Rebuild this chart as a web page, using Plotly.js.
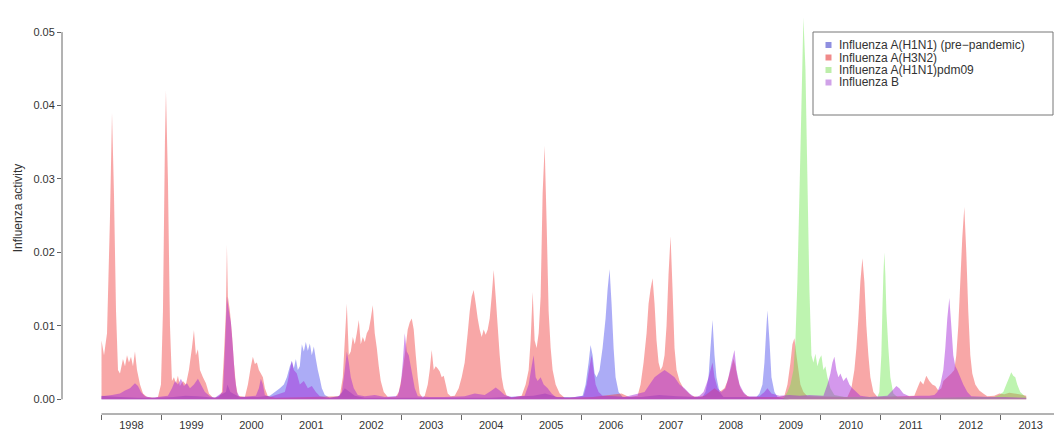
<!DOCTYPE html>
<html>
<head>
<meta charset="utf-8">
<script src="https://cdn.plot.ly/plotly-3.0.1.min.js"></script>
<style>html,body{margin:0;padding:0;background:#fff;overflow:hidden}#chart{width:1054px;height:431px}</style>
</head>
<body>
<div id="chart"></div>
<script>
// ---- data (decimal year, influenza activity) ----
const seriesNames = ["Influenza A(H1N1) (pre\u2212pandemic)", "Influenza A(H3N2)", "Influenza A(H1N1)pdm09", "Influenza B"];
const yearLabels = [1998,1999,2000,2001,2002,2003,2004,2005,2006,2007,2008,2009,2010,2011,2012,2013];
const yTicks = [0,0.01,0.02,0.03,0.04,0.05];

const h1n1Points = [
[1998.000,0.0005],[1998.100,0.0004],[1998.300,0.0003],[1998.600,0.0002],[1998.900,0.0002],
[1999.200,0.0003],[1999.400,0.0005],[1999.600,0.0004],[1999.900,0.0002],
[2000.075,0.001],[2000.100,0.002],[2000.150,0.001],[2000.300,0.0003],[2000.600,0.0003],[2000.808,0.0005],
[2000.892,0.001],[2000.975,0.0015],[2001.042,0.002],[2001.092,0.003],[2001.142,0.0045],[2001.175,0.0052],[2001.208,0.0042],[2001.242,0.0055],[2001.275,0.004],[2001.308,0.0045],[2001.342,0.0075],[2001.375,0.0065],[2001.408,0.0078],[2001.442,0.0066],[2001.475,0.0076],[2001.508,0.006],[2001.542,0.0072],[2001.575,0.0055],[2001.608,0.004],[2001.642,0.0028],[2001.675,0.0015],[2001.725,0.0006],[2001.808,0.0002],
[2001.975,0.0005],[2002.058,0.0015],[2002.142,0.001],[2002.225,0.0005],[2002.392,0.0002],
[2003.500,0.0002],[2004.500,0.0002],[2005.200,0.0005],[2005.400,0.0008],[2005.600,0.0003],[2005.900,0.0003],
[2006.025,0.0005],[2006.075,0.002],[2006.125,0.005],[2006.158,0.0074],[2006.192,0.006],[2006.225,0.0035],[2006.258,0.003],[2006.308,0.004],[2006.358,0.007],[2006.408,0.011],[2006.442,0.015],[2006.475,0.0177],[2006.508,0.013],[2006.542,0.007],[2006.575,0.003],[2006.625,0.001],[2006.692,0.0003],
[2007.000,0.0003],[2007.300,0.0006],[2007.600,0.0004],[2007.900,0.0003],
[2008.025,0.0003],[2008.075,0.001],[2008.125,0.003],[2008.158,0.007],[2008.192,0.0108],[2008.225,0.006],[2008.258,0.003],[2008.308,0.001],[2008.375,0.0003],[2008.700,0.0003],
[2008.925,0.0003],[2008.975,0.0008],[2009.025,0.002],[2009.058,0.005],[2009.092,0.01],[2009.108,0.0121],[2009.142,0.008],[2009.175,0.003],[2009.225,0.001],[2009.275,0.0003],[2009.392,0.0001],[2009.475,0]
];

const h3n2Points = [
[1998.000,0.008],[1998.042,0.006],[1998.092,0.009],[1998.142,0.025],[1998.175,0.039],[1998.208,0.028],[1998.242,0.012],[1998.275,0.004],[1998.308,0.0035],[1998.358,0.0055],[1998.392,0.0045],[1998.425,0.006],[1998.458,0.005],[1998.492,0.0058],[1998.525,0.0045],[1998.558,0.0065],[1998.592,0.004],[1998.642,0.002],[1998.692,0.0008],[1998.758,0.0003],[1998.892,0.0002],
[1998.942,0.0003],[1998.992,0.002],[1999.025,0.012],[1999.058,0.035],[1999.075,0.042],[1999.108,0.03],[1999.142,0.01],[1999.175,0.0025],[1999.208,0.003],[1999.242,0.0022],[1999.275,0.0032],[1999.308,0.0018],[1999.358,0.0025],[1999.408,0.002],[1999.458,0.004],[1999.508,0.007],[1999.542,0.0094],[1999.575,0.006],[1999.608,0.0068],[1999.642,0.004],[1999.692,0.003],[1999.742,0.0022],[1999.792,0.0008],[1999.858,0.0002],
[1999.958,0.0003],[2000.008,0.001],[2000.042,0.006],[2000.075,0.012],[2000.092,0.021],[2000.108,0.014],[2000.142,0.012],[2000.175,0.009],[2000.208,0.005],[2000.242,0.002],[2000.275,0.0005],[2000.392,0.0003],[2000.442,0.002],[2000.492,0.0045],[2000.525,0.0058],[2000.558,0.0048],[2000.592,0.005],[2000.625,0.004],[2000.658,0.0035],[2000.692,0.003],[2000.725,0.0015],[2000.775,0.0004],
[2000.900,0.0002],[2001.500,0.0003],[2001.950,0.0004],
[2001.975,0.0005],[2002.025,0.003],[2002.058,0.008],[2002.092,0.013],[2002.125,0.006],[2002.158,0.0065],[2002.192,0.0085],[2002.225,0.0075],[2002.258,0.009],[2002.292,0.0108],[2002.325,0.0075],[2002.358,0.0085],[2002.392,0.0078],[2002.425,0.009],[2002.458,0.0095],[2002.492,0.011],[2002.525,0.0128],[2002.558,0.009],[2002.592,0.007],[2002.625,0.0045],[2002.658,0.0025],[2002.708,0.001],[2002.775,0.0003],
[2002.908,0.0003],[2002.958,0.001],[2003.008,0.003],[2003.058,0.006],[2003.108,0.0095],[2003.142,0.0105],[2003.175,0.011],[2003.208,0.0095],[2003.242,0.006],[2003.275,0.003],[2003.308,0.0008],[2003.358,0.0002],[2003.392,0.0005],[2003.442,0.002],[2003.475,0.004],[2003.508,0.0067],[2003.542,0.004],[2003.575,0.0045],[2003.608,0.0042],[2003.642,0.0038],[2003.675,0.003],[2003.708,0.0032],[2003.742,0.002],[2003.775,0.0008],[2003.825,0.0004],
[2003.892,0.0005],[2003.958,0.0015],[2004.008,0.003],[2004.058,0.005],[2004.108,0.009],[2004.142,0.012],[2004.175,0.014],[2004.208,0.0149],[2004.242,0.013],[2004.275,0.011],[2004.308,0.0095],[2004.342,0.0085],[2004.375,0.0095],[2004.408,0.0088],[2004.442,0.0095],[2004.475,0.011],[2004.508,0.014],[2004.542,0.0176],[2004.575,0.014],[2004.608,0.01],[2004.642,0.006],[2004.675,0.003],[2004.708,0.0015],[2004.758,0.0005],[2004.842,0.0002],
[2005.008,0.0005],[2005.075,0.002],[2005.125,0.004],[2005.158,0.008],[2005.192,0.0146],[2005.225,0.008],[2005.258,0.007],[2005.292,0.009],[2005.325,0.014],[2005.358,0.028],[2005.392,0.0345],[2005.425,0.024],[2005.458,0.012],[2005.492,0.007],[2005.525,0.004],[2005.575,0.002],[2005.642,0.0008],[2005.725,0.0002],
[2006.200,0.0003],[2006.675,0.0008],[2006.800,0.0003],
[2006.942,0.0005],[2006.992,0.002],[2007.042,0.005],[2007.092,0.009],[2007.125,0.013],[2007.158,0.015],[2007.192,0.0165],[2007.225,0.013],[2007.258,0.008],[2007.292,0.005],[2007.325,0.004],[2007.358,0.0045],[2007.392,0.006],[2007.425,0.01],[2007.458,0.017],[2007.492,0.0222],[2007.525,0.015],[2007.558,0.007],[2007.592,0.004],[2007.642,0.0025],[2007.708,0.0015],[2007.775,0.001],[2007.842,0.0005],[2007.942,0.0003],
[2008.058,0.0005],[2008.142,0.001],[2008.225,0.0015],[2008.308,0.001],[2008.392,0.0015],[2008.442,0.0025],[2008.492,0.004],[2008.542,0.0055],[2008.575,0.0045],[2008.608,0.003],[2008.658,0.0015],[2008.725,0.0007],[2008.808,0.0003],
[2009.308,0.0003],[2009.392,0.0005],[2009.442,0.002],[2009.492,0.005],[2009.525,0.0075],[2009.558,0.0083],[2009.592,0.006],[2009.625,0.004],[2009.658,0.002],[2009.708,0.001],[2009.775,0.0004],
[2010.442,0.0003],[2010.508,0.0015],[2010.558,0.004],[2010.592,0.007],[2010.625,0.011],[2010.658,0.016],[2010.692,0.0192],[2010.725,0.016],[2010.758,0.01],[2010.792,0.006],[2010.825,0.003],[2010.875,0.001],[2010.942,0.0003],
[2011.558,0.0005],[2011.608,0.0015],[2011.658,0.0025],[2011.708,0.002],[2011.758,0.0032],[2011.808,0.0025],[2011.858,0.002],[2011.908,0.0018],[2011.958,0.0012],
[2012.008,0.0015],[2012.042,0.0025],[2012.108,0.003],[2012.175,0.0035],[2012.225,0.004],[2012.258,0.006],[2012.292,0.01],[2012.325,0.016],[2012.358,0.022],[2012.392,0.0262],[2012.425,0.02],[2012.458,0.012],[2012.492,0.006],[2012.525,0.0035],[2012.575,0.002],[2012.642,0.0012],[2012.708,0.0008],[2012.775,0.0004],
[2012.892,0.0005],[2012.975,0.0008],[2013.058,0.0007],[2013.142,0.0009],[2013.225,0.0008],[2013.308,0.0007],[2013.425,0.0005]
];

const pdm09Points = [
[2009.358,0],[2009.392,0.0003],[2009.442,0.001],[2009.492,0.002],[2009.542,0.004],[2009.575,0.008],[2009.608,0.016],[2009.642,0.028],[2009.675,0.04],[2009.708,0.052],[2009.742,0.045],[2009.775,0.03],[2009.808,0.015],[2009.842,0.006],[2009.875,0.005],[2009.908,0.0062],[2009.942,0.0045],[2009.975,0.0055],[2010.008,0.006],[2010.042,0.004],[2010.075,0.0045],[2010.108,0.003],[2010.158,0.0015],[2010.225,0.0006],[2010.392,0.0003],[2010.808,0.0003],
[2010.942,0.0003],[2010.975,0.001],[2011.008,0.006],[2011.025,0.012],[2011.042,0.017],[2011.058,0.02],[2011.075,0.017],[2011.092,0.012],[2011.125,0.007],[2011.158,0.003],[2011.208,0.0008],[2011.275,0.0003],[2011.642,0.0002],
[2012.000,0.0002],[2012.500,0.0003],[2012.800,0.0003],
[2012.892,0.0003],[2012.975,0.0006],[2013.042,0.001],[2013.092,0.002],[2013.142,0.003],[2013.175,0.0037],[2013.208,0.0032],[2013.242,0.003],[2013.275,0.002],[2013.325,0.001],[2013.392,0.0005],[2013.425,0.0003]
];

const fluBPoints = [
[1998.000,0.0004],[1998.175,0.0006],[1998.308,0.0008],[1998.392,0.0012],[1998.475,0.0015],[1998.558,0.0022],[1998.608,0.0018],[1998.658,0.001],[1998.725,0.0004],[1998.842,0.0002],
[1999.108,0.0005],[1999.175,0.0015],[1999.225,0.0025],[1999.275,0.002],[1999.325,0.0028],[1999.375,0.0018],[1999.425,0.0022],[1999.475,0.0015],[1999.542,0.002],[1999.608,0.0028],[1999.658,0.002],[1999.725,0.001],[1999.808,0.0004],[1999.892,0.0002],
[2000.025,0.001],[2000.058,0.007],[2000.092,0.014],[2000.125,0.012],[2000.158,0.0105],[2000.192,0.007],[2000.225,0.003],[2000.258,0.001],[2000.308,0.0003],[2000.575,0.0005],[2000.625,0.0015],[2000.658,0.0028],[2000.692,0.002],[2000.725,0.0006],[2000.808,0.0003],
[2001.058,0.001],[2001.108,0.0025],[2001.142,0.004],[2001.175,0.0052],[2001.208,0.004],[2001.258,0.0035],[2001.308,0.002],[2001.375,0.0025],[2001.442,0.0015],[2001.508,0.0018],[2001.575,0.001],[2001.642,0.0004],[2001.775,0.0002],
[2001.942,0.0003],[2002.008,0.001],[2002.058,0.004],[2002.092,0.0065],[2002.125,0.005],[2002.158,0.003],[2002.208,0.0015],[2002.275,0.0006],[2002.392,0.0004],[2002.558,0.0006],[2002.725,0.0003],
[2002.942,0.0005],[2002.992,0.002],[2003.025,0.005],[2003.058,0.009],[2003.092,0.0065],[2003.125,0.006],[2003.158,0.0045],[2003.192,0.003],[2003.225,0.0015],[2003.275,0.0004],[2003.475,0.0003],[2003.725,0.0003],
[2004.058,0.0004],[2004.225,0.0008],[2004.392,0.0006],[2004.508,0.0012],[2004.575,0.0016],[2004.642,0.0012],[2004.725,0.0006],[2004.842,0.0003],
[2005.058,0.0005],[2005.125,0.002],[2005.175,0.0045],[2005.208,0.006],[2005.242,0.003],[2005.275,0.0025],[2005.325,0.003],[2005.375,0.002],[2005.442,0.0015],[2005.508,0.0008],[2005.575,0.0003],[2005.808,0.0002],
[2006.042,0.0005],[2006.092,0.002],[2006.142,0.0045],[2006.175,0.006],[2006.208,0.004],[2006.242,0.002],[2006.292,0.001],[2006.358,0.0005],[2006.558,0.0004],[2006.725,0.0003],
[2007.058,0.001],[2007.142,0.002],[2007.225,0.003],[2007.308,0.0035],[2007.392,0.004],[2007.475,0.0035],[2007.558,0.003],[2007.642,0.002],[2007.725,0.0015],[2007.808,0.0008],[2007.892,0.0003],
[2007.975,0.0005],[2008.042,0.001],[2008.108,0.0025],[2008.158,0.004],[2008.192,0.005],[2008.225,0.003],[2008.275,0.0015],[2008.342,0.001],[2008.408,0.0015],[2008.458,0.003],[2008.508,0.005],[2008.558,0.0067],[2008.592,0.004],[2008.642,0.002],[2008.708,0.001],[2008.775,0.0004],
[2008.975,0.0004],[2009.058,0.001],[2009.108,0.0015],[2009.175,0.0008],[2009.308,0.0005],[2009.475,0.0006],[2009.642,0.0005],[2009.808,0.0006],
[2010.042,0.0005],[2010.108,0.002],[2010.158,0.0035],[2010.192,0.005],[2010.225,0.0058],[2010.258,0.004],[2010.292,0.003],[2010.325,0.0035],[2010.375,0.0025],[2010.425,0.003],[2010.475,0.002],[2010.525,0.0015],[2010.592,0.001],[2010.658,0.0005],[2010.808,0.0003],
[2011.108,0.0005],[2011.192,0.0012],[2011.258,0.0018],[2011.308,0.0015],[2011.375,0.0008],[2011.475,0.0004],[2011.642,0.0005],[2011.808,0.0005],
[2011.892,0.0006],[2011.942,0.001],[2011.992,0.002],[2012.042,0.004],[2012.075,0.007],[2012.108,0.011],[2012.142,0.0138],[2012.175,0.01],[2012.208,0.006],[2012.242,0.0045],[2012.275,0.004],[2012.325,0.003],[2012.375,0.002],[2012.442,0.001],[2012.508,0.0004],[2012.808,0.0003],
[2013.058,0.0003],[2013.425,0.0002]
];

// ---- drawing ----
const fillColors = ["rgba(70,70,235,0.45)", "rgba(240,60,60,0.45)", "rgba(110,230,80,0.45)", "rgba(165,40,215,0.48)"];
const markColors = ["#8f8fe0", "#f08a8a", "#bdeeaa", "#d0a2e8"];
const allPoints = [h1n1Points, h3n2Points, pdm09Points, fluBPoints];

const traces = allPoints.map((pts, i) => ({
  type: "scatter", mode: "none", fill: "tozeroy",
  x: pts.map(p => p[0]), y: pts.map(p => p[1]),
  fillcolor: fillColors[i], showlegend: false, hoverinfo: "skip", name: seriesNames[i]
}));

const font = "'Liberation Sans', Arial, Helvetica, sans-serif";

// legend drawn in paper coordinates (box 813..1053 px, rows at 45..82 px)
const plotL = 62, plotW = 992, plotT = 2, plotH = 412;
const px = v => (v - plotL) / plotW;
const py = v => 1 - (v - plotT) / plotH;
const legendRows = [45, 57.5, 70, 82.5];
const shapes = [
  {type: "line", xref: "paper", yref: "y", x0: 0, x1: 0, y0: 0, y1: 0.05, line: {color: "#666", width: 1}},
  {type: "line", xref: "x", yref: "paper", x0: 1998, x1: 2013.888, y0: 0, y1: 0, line: {color: "#666", width: 1}},
  {type: "rect", xref: "paper", yref: "paper", x0: px(813), x1: px(1053), y0: py(115), y1: py(32),
   line: {color: "#777", width: 1}, fillcolor: "rgba(255,255,255,0)"}
];
const annotations = [];
seriesNames.forEach((nm, i) => {
  const r = legendRows[i];
  shapes.push({type: "rect", xref: "paper", yref: "paper", x0: px(825.5), x1: px(831.5), y0: py(r + 3), y1: py(r - 3),
    line: {width: 0}, fillcolor: markColors[i]});
  annotations.push({xref: "paper", yref: "paper", x: px(838), y: py(r), xanchor: "left", yanchor: "middle",
    text: nm, showarrow: false, borderpad: 0, font: {family: font, size: 12, color: "#333"}});
});

const layout = {
  width: 1054, height: 431,
  margin: {l: plotL, r: 0, t: plotT, b: 17},
  paper_bgcolor: "#fff", plot_bgcolor: "#fff",
  font: {family: font, size: 11, color: "#333"},
  showlegend: false,
  xaxis: {
    type: "linear", range: [1997.341, 2013.888], showgrid: false, zeroline: false, showline: false,
    tickmode: "array", tickvals: yearLabels.map(y => y + 0.5), ticktext: yearLabels.map(String),
    ticks: "outside", ticklen: 1, tickcolor: "rgba(0,0,0,0)", tickfont: {family: font, size: 11, color: "#333"},
    minor: {tickmode: "array", tickvals: yearLabels, ticks: "outside", ticklen: 5, tickcolor: "#666", tickwidth: 1, showgrid: false}
  },
  yaxis: {
    range: [-0.0020, 0.0541], showgrid: false, zeroline: false, showline: false,
    tickmode: "array", tickvals: yTicks, ticktext: yTicks.map(v => v.toFixed(2)),
    ticks: "outside", ticklen: 4, tickcolor: "#666", tickwidth: 1,
    tickfont: {family: font, size: 11, color: "#333"},
    title: {text: "Influenza activity", font: {family: font, size: 12, color: "#333"}, standoff: 8}
  },
  shapes: shapes,
  annotations: annotations
};
Plotly.newPlot("chart", traces, layout, {staticPlot: true, displayModeBar: false});
</script>
</body>
</html>
